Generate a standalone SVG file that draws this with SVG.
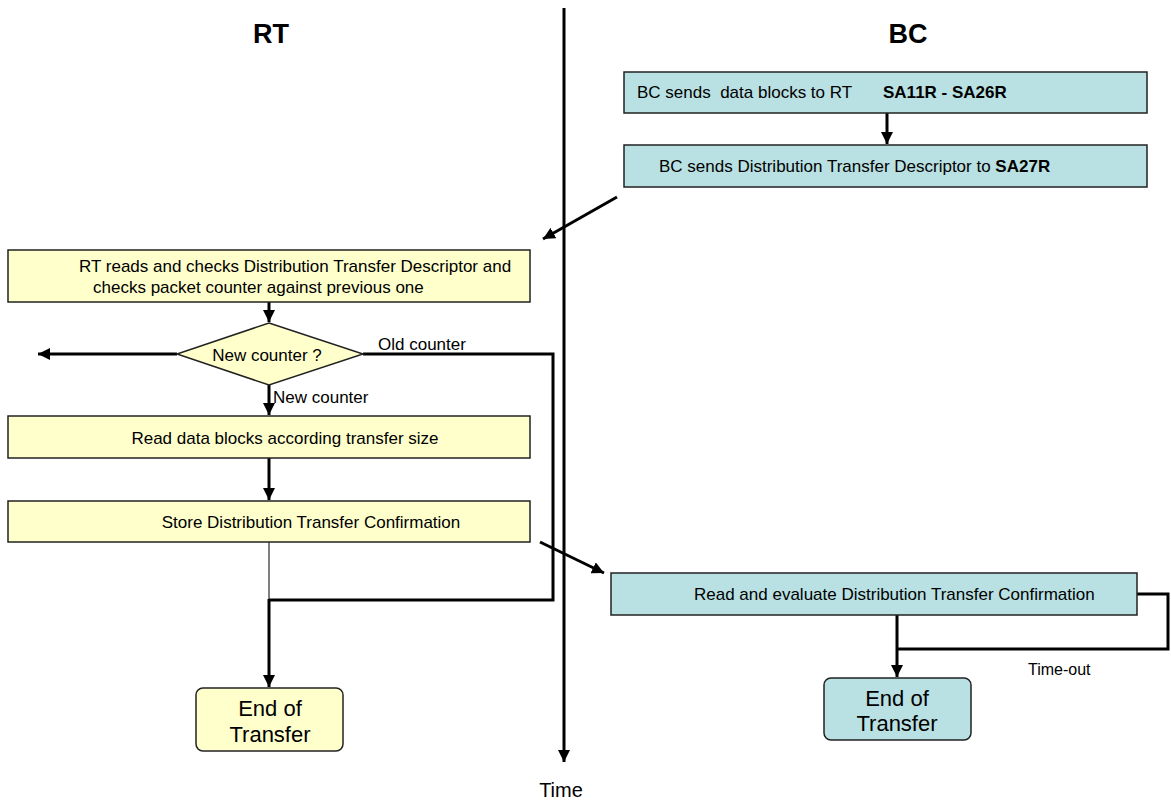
<svg xmlns="http://www.w3.org/2000/svg" width="1171" height="802" viewBox="0 0 1171 802">
  <style>
    text { font-family: "Liberation Sans", Arial, sans-serif; fill: #000; white-space: pre; }
    .rt { fill: #ffffcc; stroke: #222; stroke-width: 1.5; }
    .bc { fill: #b9e0e2; stroke: #222; stroke-width: 1.5; }
    .t { font-size: 17px; }
    .lbl { font-size: 17px; }
    .head { font-size: 27px; font-weight: bold; text-anchor: middle; }
    .end { font-size: 22px; text-anchor: middle; }
    .c { text-anchor: middle; }
    .wire { fill: none; stroke: #000; stroke-width: 3; }
    .thin { fill: none; stroke: #000; stroke-width: 1; }
  </style>
  <defs>
    <marker id="arr" viewBox="0 0 10 10" refX="10" refY="5" markerWidth="4" markerHeight="4" orient="auto" markerUnits="strokeWidth">
      <path d="M0,0 L10,5 L0,10 z" fill="#000"/>
    </marker>
  </defs>
  <rect width="1171" height="802" fill="#fff"/>

  <!-- lane headings and time axis -->
  <text class="head" x="271" y="43">RT</text>
  <text class="head" x="908" y="43">BC</text>
  <text class="c" x="561" y="797" style="font-size:20px">Time</text>

  <g id="connectors">
    <line class="wire" x1="564" y1="8" x2="564" y2="762" marker-end="url(#arr)"/>
    <line class="wire" x1="887" y1="113" x2="887" y2="144" marker-end="url(#arr)"/>
    <line class="wire" x1="617" y1="197" x2="543" y2="239" marker-end="url(#arr)"/>
    <line class="wire" x1="269" y1="302" x2="269" y2="322" marker-end="url(#arr)"/>
    <line class="wire" x1="177" y1="354" x2="38" y2="354" marker-end="url(#arr)"/>
    <line class="wire" x1="269" y1="385" x2="269" y2="415" marker-end="url(#arr)"/>
    <line class="wire" x1="269" y1="458" x2="269" y2="500" marker-end="url(#arr)"/>
    <polyline class="wire" points="363,354 553,354 553,600 269,600"/>
    <line class="thin" x1="269" y1="542" x2="269" y2="600"/>
    <line class="wire" x1="269" y1="599" x2="269" y2="687" marker-end="url(#arr)"/>
    <line class="wire" x1="540" y1="542" x2="604" y2="573" marker-end="url(#arr)"/>
    <polyline class="wire" points="1137,594 1168,594 1168,649 897,649"/>
    <line class="wire" x1="897" y1="615" x2="897" y2="677" marker-end="url(#arr)"/>
    <text class="lbl" x="378" y="350">Old counter</text>
    <text class="lbl" x="273" y="403">New counter</text>
    <text class="lbl" x="1028" y="675" style="font-size:16px">Time-out</text>
  </g>

  <g id="bc-send-data">
    <rect class="bc" x="624" y="72" width="523" height="41"/>
    <text class="t" x="637" y="98">BC sends  data blocks to RT<tspan x="883" font-weight="bold">SA11R - SA26R</tspan></text>
  </g>

  <g id="bc-send-descriptor">
    <rect class="bc" x="624" y="145" width="523" height="42"/>
    <text class="t" x="659" y="172">BC sends Distribution Transfer Descriptor to <tspan font-weight="bold">SA27R</tspan></text>
  </g>

  <g id="rt-check-descriptor">
    <rect class="rt" x="8" y="250" width="522" height="52"/>
    <text class="t" x="79" y="272">RT reads and checks Distribution Transfer Descriptor and</text>
    <text class="t" x="93" y="293">checks packet counter against previous one</text>
  </g>

  <g id="rt-decision">
    <polygon class="rt" points="269,323 363,354 269,385 177,354"/>
    <text class="t c" x="267" y="361">New counter ?</text>
  </g>

  <g id="rt-read-blocks">
    <rect class="rt" x="8" y="416" width="522" height="42"/>
    <text class="t c" x="285" y="444">Read data blocks according transfer size</text>
  </g>

  <g id="rt-store-confirmation">
    <rect class="rt" x="8" y="501" width="522" height="41"/>
    <text class="t c" x="311" y="528">Store Distribution Transfer Confirmation</text>
  </g>

  <g id="rt-end">
    <rect class="rt" x="196" y="688" width="147" height="63" rx="7"/>
    <text class="end" x="270" y="716">End of</text>
    <text class="end" x="270" y="742">Transfer</text>
  </g>

  <g id="bc-evaluate-confirmation">
    <rect class="bc" x="611" y="573" width="526" height="42"/>
    <text class="t" x="694" y="600">Read and evaluate Distribution Transfer Confirmation</text>
  </g>

  <g id="bc-end">
    <rect class="bc" x="824" y="678" width="147" height="62" rx="7"/>
    <text class="end" x="897" y="706">End of</text>
    <text class="end" x="897" y="731">Transfer</text>
  </g>
</svg>
